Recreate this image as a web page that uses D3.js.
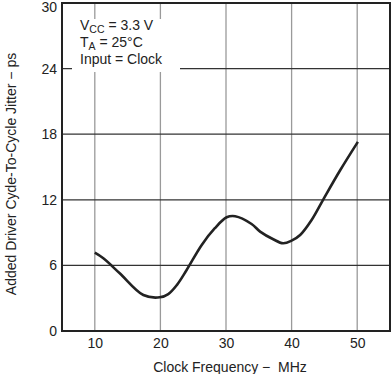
<!DOCTYPE html>
<html><head><meta charset="utf-8">
<script src="https://cdn.jsdelivr.net/npm/d3@7"></script>
<style>body{margin:0;background:#fff}svg{display:block}text{font-family:"Liberation Sans",Arial,sans-serif;fill:#222}</style>
</head><body><svg id="c" width="392" height="374"></svg>
<script>
const freq = [10,11.3,13.8,17.4,19.9,21.2,22.5,24.0,26.3,28.3,30.1,31.4,33.9,35.2,37.2,38.7,40.0,41.3,43.1,44.8,47.4,50.1];
const jitter = [7.16,6.65,5.28,3.29,3.08,3.38,4.2,5.58,7.87,9.4,10.4,10.5,9.79,9.09,8.39,8.02,8.26,8.78,10.2,12.0,14.7,17.3];
const xTicks = [10,20,30,40,50];
const yTicks = [0,6,12,18,24,30];
const xTitle = "Clock Frequency \u2212\u00A0 MHz";
const yTitle = "Added Driver Cyde-To-Cycle Jitter \u2212 ps";

const svg = d3.select("#c");
const L=62,R=390,T=3,B=331;
const x = d3.scaleLinear().domain([5,55]).range([L,R]);
const y = d3.scaleLinear().domain([0,30]).range([B,T]);
const FS = 14;

// vertical grid (gray)
svg.append("g").selectAll("line").data(xTicks).join("line")
  .attr("x1",d=>x(d)).attr("x2",d=>x(d)).attr("y1",T).attr("y2",B)
  .attr("stroke","#9a9a9a").attr("stroke-width",1.3);
// horizontal grid (dark)
svg.append("g").selectAll("line").data(yTicks.filter(d=>d>0&&d<30)).join("line")
  .attr("x1",L).attr("x2",R).attr("y1",d=>y(d)).attr("y2",d=>y(d))
  .attr("stroke","#333").attr("stroke-width",1.2);

// annotation box
svg.append("rect").attr("x",72).attr("y",19).attr("width",108).attr("height",53).attr("fill","#fff");
const ann = svg.append("g").attr("font-size",FS);
const t1 = ann.append("text").attr("x",80).attr("y",30);
t1.append("tspan").text("V");
t1.append("tspan").attr("font-size",10.5).attr("dy",3).text("CC");
t1.append("tspan").attr("dy",-3).text(" = 3.3 V");
const t2 = ann.append("text").attr("x",80).attr("y",47);
t2.append("tspan").text("T");
t2.append("tspan").attr("font-size",10.5).attr("dy",3).text("A");
t2.append("tspan").attr("dy",-3).text(" = 25\u00B0C");
ann.append("text").attr("x",80).attr("y",64).text("Input = Clock");

// curve
const line = d3.line().x((d,i)=>x(freq[i])).y(d=>y(d)).curve(d3.curveCatmullRom.alpha(0.5));
svg.append("path").datum(jitter).attr("d",line).attr("fill","none")
  .attr("stroke","#222").attr("stroke-width",2.6).attr("stroke-linejoin","round");

// frame
svg.append("rect").attr("x",L).attr("y",T).attr("width",R-L).attr("height",B-T)
  .attr("fill","none").attr("stroke","#222").attr("stroke-width",2);

// axes labels
const xa = svg.append("g").attr("transform",`translate(0,${B})`)
  .call(d3.axisBottom(x).tickValues(xTicks).tickSize(0).tickPadding(7).tickFormat(d3.format("d")));
xa.select(".domain").remove();
xa.selectAll("text").attr("font-size",FS).attr("font-family","Liberation Sans, Arial, sans-serif").attr("fill","#222");
const ya = svg.append("g").attr("transform",`translate(${L},0)`)
  .call(d3.axisLeft(y).tickValues(yTicks).tickSize(0).tickPadding(5).tickFormat(d3.format("d")));
ya.select(".domain").remove();
ya.selectAll("text").attr("font-size",FS).attr("font-family","Liberation Sans, Arial, sans-serif").attr("fill","#222")
  .attr("dy",d=>d===30?"0.62em":"0.32em");

svg.append("text").attr("x",230).attr("y",372).attr("text-anchor","middle").attr("font-size",FS).text(xTitle);
svg.append("text").attr("transform","translate(11,174) rotate(-90)").attr("text-anchor","middle").attr("font-size",FS).attr("dy","0.35em").text(yTitle);
</script></body></html>
